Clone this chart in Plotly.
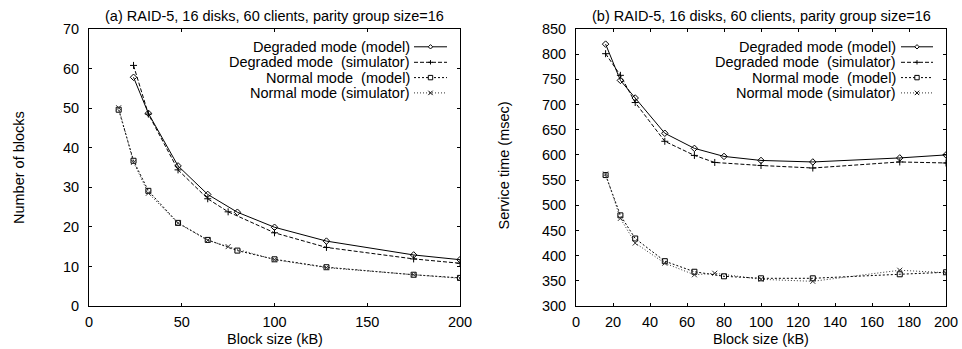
import plotly.graph_objects as go

W, H = 962, 349

# ---- data ----
x_a_deg_model = [24, 32, 48, 64, 80, 100, 128, 175, 200]
x_a_deg_sim = [24, 32, 48, 64, 75, 100, 128, 175, 200]
x_a_norm_model = [16, 24, 32, 48, 64, 80, 100, 128, 175, 200]
x_a_norm_sim = [16, 24, 32, 48, 64, 75, 100, 128, 175, 200]
blocks_deg_model = [57.8, 48.7, 35.4, 28.2, 23.7, 19.9, 16.4, 12.9, 11.7]
blocks_deg_sim = [60.8, 48.5, 34.4, 27.1, 23.8, 18.5, 14.8, 11.9, 10.8]
blocks_norm_model = [49.6, 36.7, 29.1, 21.0, 16.7, 14.0, 11.8, 9.8, 7.9, 7.1]
blocks_norm_sim = [50.1, 36.3, 28.5, 20.9, 16.6, 15.0, 11.7, 9.7, 7.9, 7.0]

x_b_model = [16, 24, 32, 48, 64, 80, 100, 128, 175, 200]
x_b_sim = [16, 24, 32, 48, 64, 75, 100, 128, 175, 200]
svc_deg_model = [820, 748, 713, 643, 613, 597, 589, 586, 594, 600]
svc_deg_sim = [801, 758, 704, 627, 599, 585, 579, 574, 586, 584]
svc_norm_model = [560, 480, 434, 389, 368, 359, 355, 355, 363, 367]
svc_norm_sim = [562, 474, 425, 385, 362, 365, 353, 349, 371, 366]

series_names = ["Degraded mode (model)", "Degraded mode  (simulator)",
                "Normal mode  (model)", "Normal mode (simulator)"]
title_a = "(a) RAID-5, 16 disks, 60 clients, parity group size=16"
title_b = "(b) RAID-5, 16 disks, 60 clients, parity group size=16"
xlabel = "Block size (kB)"
ylabel_a = "Number of blocks"
ylabel_b = "Service time (msec)"

FONT = "Liberation Sans, Arial, sans-serif"
FS = 14.5

styles = [
    dict(dash="solid", symbol="diamond-open", size=5, lw=1.0, color="black"),
    dict(dash="4px,2px", symbol="cross-thin", size=5, lw=1.0, color="black"),
    dict(dash="2px,2px", symbol="square-open", size=5, lw=1.0, color="black"),
    dict(dash="1px,2px", symbol="x-thin", size=5, lw=1.0, color="#333333"),
]

fig = go.Figure()

def add(x, y, st, xa, ya):
    fig.add_trace(go.Scatter(
        x=x, y=y, mode="lines+markers", xaxis=xa, yaxis=ya, showlegend=False,
        line=dict(color=st["color"], width=st["lw"], dash=st["dash"]),
        marker=dict(symbol=st["symbol"], size=st["size"], color=st["color"],
                    line=dict(color=st["color"], width=1)),
    ))

add(x_a_deg_model, blocks_deg_model, styles[0], "x", "y")
add(x_a_deg_sim, blocks_deg_sim, styles[1], "x", "y")
add(x_a_norm_model, blocks_norm_model, styles[2], "x", "y")
add(x_a_norm_sim, blocks_norm_sim, styles[3], "x", "y")
add(x_b_model, svc_deg_model, styles[0], "x2", "y2")
add(x_b_sim, svc_deg_sim, styles[1], "x2", "y2")
add(x_b_model, svc_norm_model, styles[2], "x2", "y2")
add(x_b_sim, svc_norm_sim, styles[3], "x2", "y2")

def px(x):
    return x / W

def py(y):
    return 1 - y / H

ax_common = dict(showline=True, mirror="allticks", linecolor="black", linewidth=1,
                 ticks="inside", ticklen=3, tickcolor="black", showgrid=False,
                 zeroline=False, automargin=False,
                 tickfont=dict(family=FONT, size=FS, color="black"))

yd = [py(306), py(29)]
fig.update_layout(
    width=W, height=H, margin=dict(l=0, r=0, t=0, b=0, autoexpand=False),
    paper_bgcolor="white", plot_bgcolor="white",
    font=dict(family=FONT, size=FS, color="black"),
    xaxis=dict(domain=[px(89), px(460)], range=[0, 200], dtick=50, anchor="y",
               ticklabelstandoff=3, **ax_common),
    yaxis=dict(domain=yd, range=[0, 70], dtick=10, anchor="x",
               ticklabelstandoff=6, **ax_common),
    xaxis2=dict(domain=[px(576), px(946)], range=[0, 200], dtick=20, anchor="y2",
                ticklabelstandoff=3, **ax_common),
    yaxis2=dict(domain=yd, range=[300, 850], dtick=50, anchor="x2",
                ticklabelstandoff=6, **ax_common),
)

ann = []
def text(t, x, y, xanchor="center", angle=0):
    ann.append(dict(text=t, x=px(x), y=py(y), xref="paper", yref="paper",
                    showarrow=False, xanchor=xanchor, yanchor="middle",
                    textangle=angle, borderpad=0, font=dict(size=FS)))

text(title_a, 274.5, 16)
text(title_b, 761, 16)
text(xlabel, 274.5, 338.5)
text(xlabel, 761, 338.5)
text(ylabel_a, 18.5, 167.5, angle=-90)
text(ylabel_b, 503.5, 166, angle=-90)

shapes = []
rows_y = [46.8, 62.3, 77.6, 92.9]
for (text_right, l0, l1) in ((411, 414, 447), (897, 901, 933)):
    for i, (name, st) in enumerate(zip(series_names, styles)):
        yy = rows_y[i]
        text(name, text_right, yy, xanchor="right")
        shapes.append(dict(type="line", xref="paper", yref="paper",
                           x0=px(l0), x1=px(l1), y0=py(yy), y1=py(yy),
                           line=dict(color=st["color"], width=1, dash=st["dash"])))
        cx = (l0 + l1) / 2
        r = 2.2
        if i == 0:
            path = (f"M {px(cx)},{py(yy - r)} L {px(cx + r)},{py(yy)} "
                    f"L {px(cx)},{py(yy + r)} L {px(cx - r)},{py(yy)} Z")
            shapes.append(dict(type="path", xref="paper", yref="paper", path=path,
                               fillcolor="white", line=dict(color="black", width=1)))
        elif i == 1:
            shapes.append(dict(type="line", xref="paper", yref="paper",
                               x0=px(cx - r), x1=px(cx + r), y0=py(yy), y1=py(yy),
                               line=dict(color="black", width=1)))
            shapes.append(dict(type="line", xref="paper", yref="paper",
                               x0=px(cx), x1=px(cx), y0=py(yy - r), y1=py(yy + r),
                               line=dict(color="black", width=1)))
        elif i == 2:
            shapes.append(dict(type="rect", xref="paper", yref="paper",
                               x0=px(cx - r), x1=px(cx + r), y0=py(yy - r), y1=py(yy + r),
                               fillcolor="white", line=dict(color="black", width=1)))
        else:
            shapes.append(dict(type="line", xref="paper", yref="paper",
                               x0=px(cx - r), x1=px(cx + r), y0=py(yy - r), y1=py(yy + r),
                               line=dict(color="black", width=1)))
            shapes.append(dict(type="line", xref="paper", yref="paper",
                               x0=px(cx - r), x1=px(cx + r), y0=py(yy + r), y1=py(yy - r),
                               line=dict(color="black", width=1)))

fig.update_layout(annotations=ann, shapes=shapes)
fig.write_html("out.html")
